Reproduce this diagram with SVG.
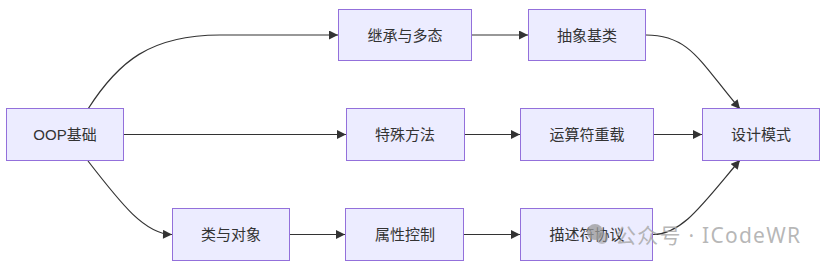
<svg xmlns="http://www.w3.org/2000/svg" width="826" height="267" viewBox="0 0 826 267">
<style>
.node rect{fill:#ECECFF;stroke:#9370DB;stroke-width:1}
.node text{font-family:"Liberation Sans","Noto Sans CJK SC",sans-serif;font-size:15px;fill:#333;text-anchor:middle;dominant-baseline:central}
.edge{fill:none;stroke:#333;stroke-width:1.2}
.wm{font-family:"Noto Sans","Noto Sans CJK SC",sans-serif;font-size:21px;fill:#aaa;fill-opacity:0.85}
</style>
<defs>
<marker id="arrow" viewBox="0 0 10 10" refX="10" refY="5" markerUnits="userSpaceOnUse" markerWidth="10" markerHeight="9" orient="auto">
<path d="M0,0 L10,5 L0,10 z" fill="#333"/>
</marker>
</defs>
<rect width="826" height="267" fill="#fff"/>
<g id="edges">
<path class="edge" d="M88,109 C118,62 150,35 220,35 L338,35" marker-end="url(#arrow)"/>
<path class="edge" d="M124,134.5 L346,134.5" marker-end="url(#arrow)"/>
<path class="edge" d="M88,161 C122,205 145,234 172,234.5" marker-end="url(#arrow)"/>
<path class="edge" d="M472,35 L528,35" marker-end="url(#arrow)"/>
<path class="edge" d="M465,134.5 L520,134.5" marker-end="url(#arrow)"/>
<path class="edge" d="M290,234.5 L345,234.5" marker-end="url(#arrow)"/>
<path class="edge" d="M646,35 C690,35 700,62 740,109" marker-end="url(#arrow)"/>
<path class="edge" d="M654,134.5 L702,134.5" marker-end="url(#arrow)"/>
<path class="edge" d="M464,234.5 L520,234.5" marker-end="url(#arrow)"/>
<path class="edge" d="M653,234.5 C682,234.5 702,205 740,160" marker-end="url(#arrow)"/>
</g>
<g id="n-oop" class="node"><rect x="6.5" y="108.5" width="117" height="52"/><text x="65" y="134.5">OOP基础</text></g>
<g id="n-inherit" class="node"><rect x="338.5" y="9.5" width="133" height="51"/><text x="405" y="35">继承与多态</text></g>
<g id="n-abc" class="node"><rect x="528.5" y="9.5" width="117" height="51"/><text x="587" y="35">抽象基类</text></g>
<g id="n-special" class="node"><rect x="346.5" y="108.5" width="118" height="52"/><text x="405" y="134.5">特殊方法</text></g>
<g id="n-operator" class="node"><rect x="520.5" y="108.5" width="133" height="52"/><text x="587" y="134.5">运算符重载</text></g>
<g id="n-pattern" class="node"><rect x="702.5" y="108.5" width="117" height="52"/><text x="761" y="134.5">设计模式</text></g>
<g id="n-class" class="node"><rect x="172.5" y="208.5" width="117" height="52"/><text x="231" y="234.5">类与对象</text></g>
<g id="n-property" class="node"><rect x="345.5" y="208.5" width="118" height="52"/><text x="405" y="234.5">属性控制</text></g>
<g id="n-descriptor" class="node"><rect x="520.5" y="208.5" width="132" height="52"/><text x="587" y="234.5">描述符协议</text></g>
<g id="watermark">
<circle cx="595" cy="232" r="8" fill="#999" fill-opacity="0.75"/>
<circle cx="602" cy="238" r="6" fill="#999" fill-opacity="0.55"/>
<text class="wm" x="615" y="243" textLength="185" lengthAdjust="spacing">公众号 · ICodeWR</text>
</g>
</svg>
